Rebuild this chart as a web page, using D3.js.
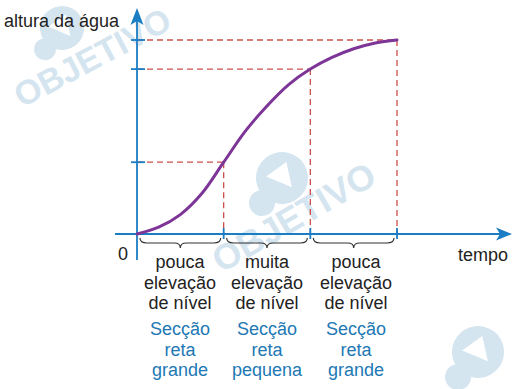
<!DOCTYPE html>
<html>
<head>
<meta charset="utf-8">
<script src="https://cdn.jsdelivr.net/npm/d3@7"></script>
<style>
  body { margin: 0; background: #fff; }
  text { font-family: "Liberation Sans", Arial, sans-serif; }
</style>
</head>
<body>
<div id="chart"></div>
<script>
const width = 518;
const height = 389;

// curve samples (time in phases, height as fraction of final level)
const timeSamples = [0, 0.25, 0.5, 0.75, 1, 1.25, 1.5, 1.75, 2, 2.25, 2.5, 2.75, 3];
const heightSamples = [0, 0.035, 0.10, 0.21, 0.37, 0.53, 0.66, 0.77, 0.85, 0.91, 0.955, 0.985, 1.0];

// marked points at the end of each phase
const markTimes = [1, 2, 3];
const markHeights = [0.37, 0.85, 1.0];

const phaseLabels = [
  ["pouca", "elevação", "de nível"],
  ["muita", "elevação", "de nível"],
  ["pouca", "elevação", "de nível"]
];
const sectionLabels = [
  ["Secção", "reta", "grande"],
  ["Secção", "reta", "pequena"],
  ["Secção", "reta", "grande"]
];

const axisColor = "#1b7dc3";
const dashColor = "#cc4f4a";
const curveColor = "#7d3597";
const blueText = "#2178b4";
const wmColor = "#d5e5f0";

const x = d3.scaleLinear().domain([0, 3]).range([137, 397]);
const y = d3.scaleLinear().domain([0, 1]).range([234, 40]);

const svg = d3.select("#chart").append("svg")
  .attr("width", width)
  .attr("height", height);

// faint watermarks
const wm = svg.append("g").attr("fill", wmColor);
function logo(cx, cy, r) {
  const g = wm.append("g").attr("transform", "translate(" + cx + "," + cy + ") rotate(-30)");
  g.append("circle").attr("r", r);
  g.append("path")
    .attr("d", "M" + (-r * 0.5) + "," + (-r * 0.35) + " L" + (r * 0.45) + "," + (-r * 0.45) +
      " L" + (r * 0.15) + "," + (r * 0.5) + " Z")
    .attr("fill", "#fff");
  g.append("circle").attr("cx", -r * 1.15).attr("cy", r * 0.45).attr("r", r * 0.5);
}
function watermark(cx, cy, angle, size) {
  wm.append("text")
    .attr("transform", "translate(" + cx + "," + cy + ") rotate(" + angle + ")")
    .text("OBJETIVO")
    .attr("font-size", size)
    .attr("font-weight", "bold")
    .attr("text-anchor", "middle");
}
logo(62, 28, 22);
watermark(98, 68, -28, 34);
logo(282, 178, 26);
watermark(300, 228, -30, 36);
logo(478, 352, 26);

// dashed guide lines
const guides = svg.append("g")
  .attr("stroke", dashColor)
  .attr("stroke-width", 1.3)
  .attr("stroke-dasharray", "6,4")
  .attr("fill", "none");
markTimes.forEach((t, i) => {
  guides.append("line")
    .attr("x1", x(0)).attr("y1", y(markHeights[i]))
    .attr("x2", x(t)).attr("y2", y(markHeights[i]));
  guides.append("line")
    .attr("x1", x(t)).attr("y1", y(markHeights[i]))
    .attr("x2", x(t)).attr("y2", y(0));
});

// axes
const ax = svg.append("g").attr("stroke", axisColor).attr("stroke-width", 1.8);
ax.append("line").attr("x1", x(0)).attr("y1", 260).attr("x2", x(0)).attr("y2", 20);
ax.append("line").attr("x1", 115).attr("y1", y(0)).attr("x2", 502).attr("y2", y(0));
svg.append("path")
  .attr("d", "M" + x(0) + ",8 L" + (x(0) + 6.5) + ",25 L" + x(0) + ",21 L" + (x(0) - 6.5) + ",25 Z")
  .attr("fill", axisColor);
svg.append("path")
  .attr("d", "M512," + y(0) + " L496," + (y(0) - 6.5) + " L500," + y(0) + " L496," + (y(0) + 6.5) + " Z")
  .attr("fill", axisColor);

// ticks
markHeights.forEach(h => {
  ax.append("line").attr("x1", x(0) - 6).attr("x2", x(0) + 8).attr("y1", y(h)).attr("y2", y(h));
});
markTimes.forEach(t => {
  ax.append("line").attr("x1", x(t)).attr("x2", x(t)).attr("y1", y(0) - 6).attr("y2", y(0) + 5);
});

// curve
const line = d3.line()
  .x((d, i) => x(timeSamples[i]))
  .y(d => y(d))
  .curve(d3.curveCatmullRom);
svg.append("path")
  .datum(heightSamples)
  .attr("d", line)
  .attr("fill", "none")
  .attr("stroke", curveColor)
  .attr("stroke-width", 3)
  .attr("stroke-linecap", "round");

// braces under each phase
const bounds = [0].concat(markTimes);
for (let i = 0; i < 3; i++) {
  const x0 = x(bounds[i]) + 3, x1 = x(bounds[i + 1]) - 3, m = (x0 + x1) / 2;
  const top = y(0) + 4, mid = y(0) + 9, tip = y(0) + 14;
  svg.append("path")
    .attr("d", "M" + x0 + "," + top + " Q" + x0 + "," + mid + " " + (x0 + 7) + "," + mid +
      " L" + (m - 6) + "," + mid + " Q" + m + "," + mid + " " + m + "," + tip +
      " Q" + m + "," + mid + " " + (m + 6) + "," + mid +
      " L" + (x1 - 7) + "," + mid + " Q" + x1 + "," + mid + " " + x1 + "," + top)
    .attr("fill", "none")
    .attr("stroke", "#333")
    .attr("stroke-width", 1.2);
}

// text labels
svg.append("text").text("altura da água")
  .attr("x", 4).attr("y", 27).attr("font-size", 18).attr("fill", "#222");
svg.append("text").text("tempo")
  .attr("x", 458).attr("y", 261).attr("font-size", 18).attr("fill", "#222");
svg.append("text").text("0")
  .attr("x", 118).attr("y", 260).attr("font-size", 18).attr("fill", "#222");

const centers = [180, 267, 356];
phaseLabels.forEach((lines, i) => {
  lines.forEach((s, j) => {
    svg.append("text").text(s)
      .attr("x", centers[i]).attr("y", 268 + j * 20.5)
      .attr("text-anchor", "middle")
      .attr("font-size", 18).attr("fill", "#222");
  });
});
sectionLabels.forEach((lines, i) => {
  lines.forEach((s, j) => {
    svg.append("text").text(s)
      .attr("x", centers[i]).attr("y", 335 + j * 20.5)
      .attr("text-anchor", "middle")
      .attr("font-size", 18).attr("fill", blueText);
  });
});
</script>
</body>
</html>
